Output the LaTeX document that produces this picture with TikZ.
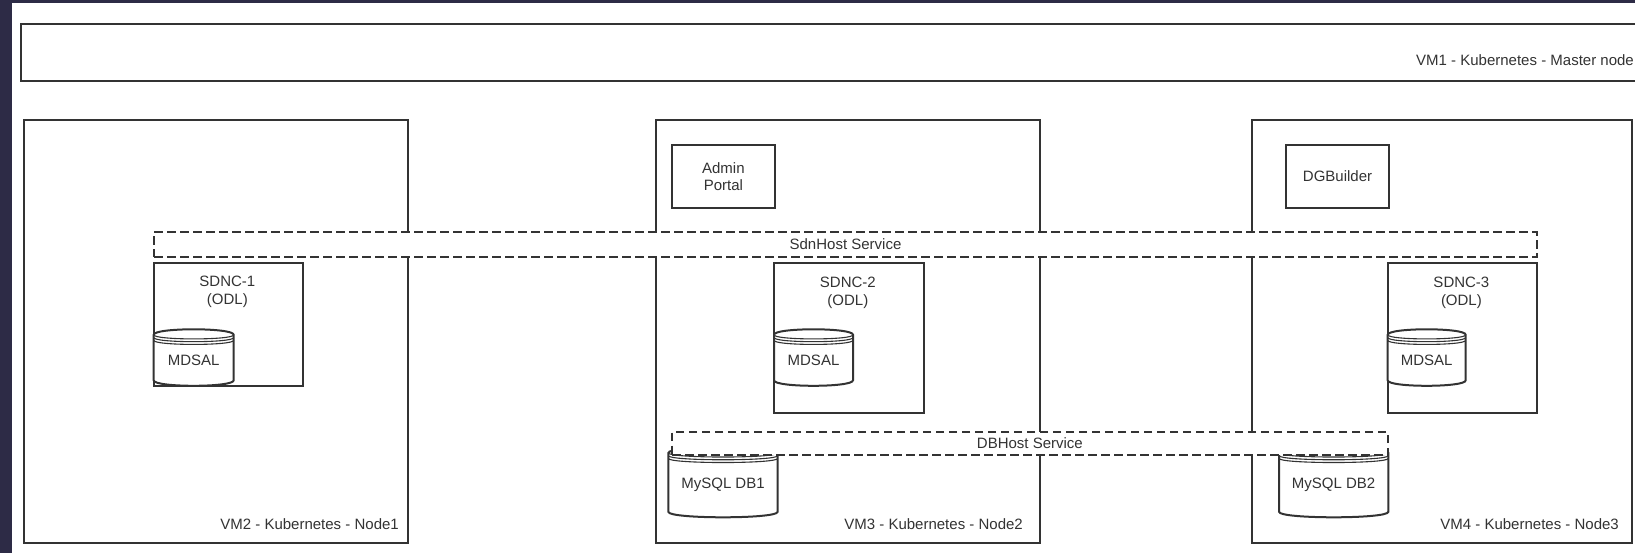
\documentclass[tikz,border=0pt]{standalone}
\usepackage{fontspec}
\setmainfont{Liberation Sans}
\definecolor{linec}{HTML}{333333}
\definecolor{txtc}{HTML}{333333}
\definecolor{bandc}{HTML}{2D2B46}
\newcommand{\cd}{5.5}
\begin{document}
\begin{tikzpicture}[x=1pt,y=-1pt,
  box/.style={draw=linec, line width=2pt, fill=white, inner sep=2pt,
    font=\fontsize{15}{17}\selectfont, text=txtc, align=center},
  svc/.style={draw=linec, line width=2pt, fill=white, dash pattern=on 8.5pt off 4.5pt,
    inner sep=0pt, font=\fontsize{15}{17}\selectfont, text=txtc},
  cyl/.style={draw=linec, line width=2pt, fill=white},
  cylline/.style={draw=linec, line width=1.1pt},
  lbl/.style={font=\fontsize{15}{18}\selectfont, text=txtc, inner sep=0pt, align=center},
]
\fill[white] (0,0) rectangle (1635,553);
\fill[bandc] (0,0) rectangle (12,553);
\fill[bandc] (0,0) rectangle (1635,3.3);
\useasboundingbox (0,0) rectangle (1635,553);

\newcommand{\bx}[6]{\node[box, anchor=north west, minimum width=#4pt, minimum height=#5pt] (#1) at (#2,#3) {#6};}
\newcommand{\dbcyl}[6]{%
  \draw[cyl] (#2,{#3+\cd}) .. controls (#2,{#3-\cd/3}) and ({#2+#4},{#3-\cd/3}) .. ({#2+#4},{#3+\cd})
    -- ({#2+#4},{#3+#5-\cd}) .. controls ({#2+#4},{#3+#5+\cd/3}) and (#2,{#3+#5+\cd/3}) .. (#2,{#3+#5-\cd}) -- cycle;
  \foreach \k in {0,0.5,1}
    \draw[cylline] (#2,{#3+\cd+\k*\cd}) .. controls (#2,{#3+2*\cd+\k*\cd}) and ({#2+#4},{#3+2*\cd+\k*\cd}) .. ({#2+#4},{#3+\cd+\k*\cd});
  \node[lbl] (#1) at ({#2+#4/2},{#3+#5/2+2.5}) {#6};
}

% VM boxes
\bx{vm1}{20}{23}{1625}{57}{}
\node[lbl, anchor=base east] (vm1t) at (1634,65.7) {VM1 - Kubernetes - Master node};
\bx{vm2}{22.7}{119.3}{384.3}{422.4}{}
\bx{vm3}{655}{119.3}{384}{422.4}{}
\bx{vm4}{1250.7}{119.3}{380.3}{422.7}{}
\node[lbl, anchor=base east] (vm2t) at (399,529) {VM2 - Kubernetes - Node1};
\node[lbl, anchor=base east] (vm3t) at (1023,529) {VM3 - Kubernetes - Node2};
\node[lbl, anchor=base east] (vm4t) at (1619,529) {VM4 - Kubernetes - Node3};

% apps
\bx{admin}{671}{144}{102.7}{62.7}{Admin\\Portal}
\bx{dgb}{1285.3}{144}{102.4}{62.7}{DGBuilder}

% SDNC boxes
\bx{s1}{152.7}{261.7}{149.3}{123.5}{}
\bx{s2}{773}{262.3}{149.7}{149.4}{}
\bx{s3}{1386.7}{262.3}{149.3}{149.7}{}
\node[lbl, anchor=north] (s1t) at (227.4,276) {SDNC-1\\(ODL)};
\node[lbl, anchor=north] (s2t) at (847.9,276.5) {SDNC-2\\(ODL)};
\node[lbl, anchor=north] (s3t) at (1461.4,276.5) {SDNC-3\\(ODL)};

% datastores
\dbcyl{md1}{153.7}{329.3}{80}{56.5}{MDSAL}
\dbcyl{md2}{774}{329.3}{79}{56.5}{MDSAL}
\dbcyl{md3}{1387.7}{329.3}{78}{56.5}{MDSAL}
\dbcyl{db1}{668.3}{447.4}{109.4}{69.9}{MySQL DB1}
\dbcyl{db2}{1279}{447.4}{109.3}{69.9}{MySQL DB2}

% services
\node[svc, anchor=north west, minimum width=1383pt, minimum height=24.7pt] (sdn) at (153,231) {SdnHost Service};
\node[svc, anchor=north west, minimum width=715.7pt, minimum height=23.6pt] (dbh) at (671,430.7) {DBHost Service};
\end{tikzpicture}
\end{document}
